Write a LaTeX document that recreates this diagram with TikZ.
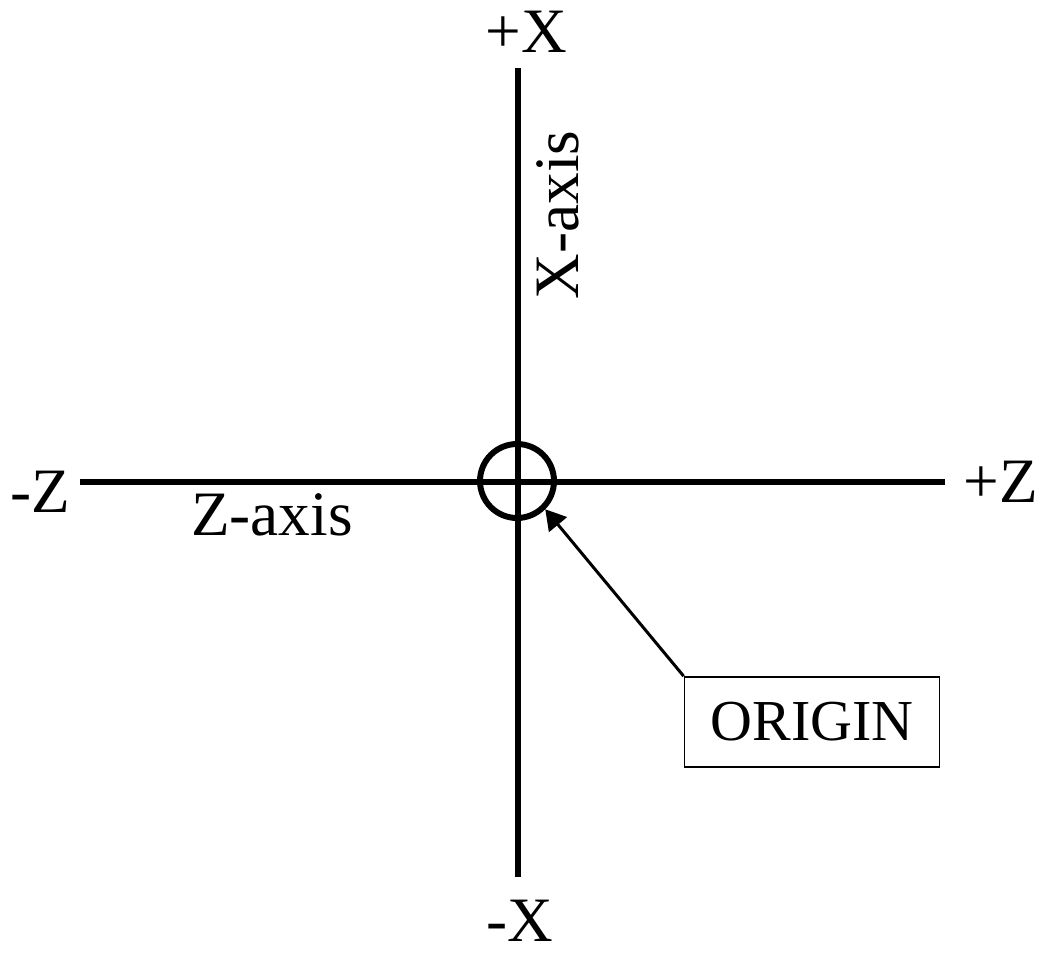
\documentclass[tikz,border=0pt]{standalone}
\usepackage{fontspec}
\setmainfont{Liberation Serif}
\usetikzlibrary{arrows.meta}

\begin{document}
\begin{tikzpicture}[x=0.02cm, y=-0.02cm, >={Triangle[length=0.4cm, width=0.46cm]},
  axis/.style={line width=3.4pt},
  lbl/.style={inner sep=0pt, font=\fontsize{36}{40}\selectfont}]

  \useasboundingbox (0,0) rectangle (1042,957);

  % Axis ends
  \coordinate (xtop) at (518, 68);
  \coordinate (xbot) at (518, 877);
  \coordinate (zleft) at (80, 482);
  \coordinate (zright) at (945, 482);

  % Axes
  \draw[axis] (xtop) -- (xbot);
  \draw[axis] (zleft) -- (zright);

  % Origin circle
  \node[draw, circle, line width=3.4pt, minimum size=1.48cm, inner sep=0pt] (origin) at (517, 481) {};

  % Axis labels
  \node[lbl] (px) at (526, 32) {+X};
  \node[lbl] (nx) at (520, 921) {-X};
  \node[lbl] (nz) at (40, 492) {-Z};
  \node[lbl] (pz) at (1001, 482) {+Z};
  \node[lbl, rotate=90] (xaxis) at (558, 215) {X-axis};
  \node[lbl] (zaxis) at (272, 515) {Z-axis};

  % Origin box and pointer
  \node[draw, line width=1pt, minimum width=5.1cm, minimum height=1.8cm,
        font=\fontsize{33}{38}\selectfont] (obox) at (812, 722) {ORIGIN};
  \draw[->, line width=1.7pt] (obox.north west) -- (origin.-45);
\end{tikzpicture}
\end{document}
